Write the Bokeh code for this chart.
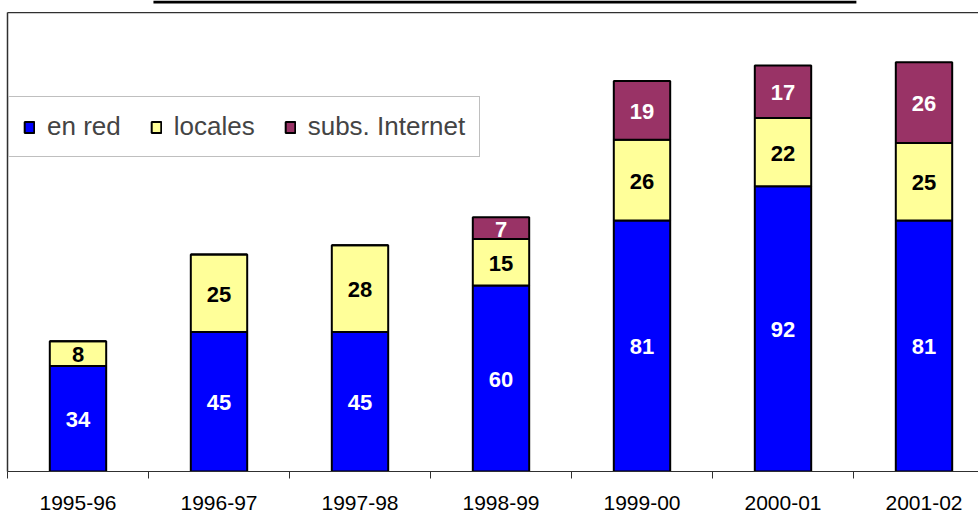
from bokeh.plotting import figure
from bokeh.models import (Range1d, FixedTicker, Legend, LegendItem, BoxAnnotation,
                          ColumnDataSource, LinearAxis)
from bokeh.layouts import column
from bokeh.embed import file_html
from bokeh.resources import INLINE
from bokeh.core.properties import value

# ---------------- data ----------------
periods = ["1995-96", "1996-97", "1997-98", "1998-99", "1999-00", "2000-01", "2001-02"]
en_red = [34, 45, 45, 60, 81, 92, 81]
locales = [8, 25, 28, 15, 26, 22, 25]
subs_internet = [0, 0, 0, 7, 19, 17, 26]
series_names = ["en red", "locales", "subs. Internet"]
series_keys = ["en_red", "locales", "subs_internet"]
series_colors = ["#0000FF", "#FFFF99", "#993366"]
label_colors = ["#FFFFFF", "#000000", "#FFFFFF"]

# ---------------- layout constants ----------------
W, H = 978, 516
TOP_STRIP = 12          # strip above the chart area holding the title rule
FRAME_LEFT = 7
AXIS_Y = 471            # page y of the category axis
PX_PER_UNIT = 3.1
PX_PER_CAT = 141.0
FONT = "Liberation Sans"
EDGE = "#303030"

x_pos = [i + 0.5 for i in range(len(periods))]
boundaries = [float(i) for i in range(len(periods) + 1)]

# ---------------- top strip: title rule ----------------
strip = figure(width=W, height=TOP_STRIP, output_backend="svg", toolbar_location=None,
               x_range=Range1d(0, W), y_range=Range1d(TOP_STRIP, 0),
               x_axis_location=None, y_axis_location=None,
               min_border_left=0, min_border_right=0, min_border_top=0, min_border_bottom=0)
strip.outline_line_color = None
strip.xgrid.visible = False
strip.ygrid.visible = False
strip.add_layout(BoxAnnotation(left=147, right=855, top=0, bottom=3,
                               fill_color="black", fill_alpha=1, line_alpha=0))

# ---------------- main chart ----------------
src = ColumnDataSource(dict(x=x_pos, en_red=en_red, locales=locales,
                            subs_internet=subs_internet))

main_h = H - TOP_STRIP
frame_h = AXIS_Y - TOP_STRIP
frame_w = W - FRAME_LEFT
p = figure(width=W, height=main_h, output_backend="svg", toolbar_location=None,
           x_range=Range1d(0, frame_w / PX_PER_CAT),
           y_range=Range1d(0, frame_h / PX_PER_UNIT),
           y_axis_location=None,
           min_border_left=FRAME_LEFT, min_border_right=0,
           min_border_top=0, min_border_bottom=main_h - frame_h)
p.outline_line_color = None
p.xgrid.visible = False
p.ygrid.visible = False
p.background_fill_color = "white"
p.border_fill_color = "white"

renderers = p.vbar_stack(series_keys, x="x", width=0.4, source=src,
                         color=series_colors, line_color="black", line_width=2)

# segment labels
cum = [0] * len(periods)
for key, vals, lc in zip(series_keys, [en_red, locales, subs_internet], label_colors):
    xs, ys, ts = [], [], []
    for i, v in enumerate(vals):
        if v > 0:
            xs.append(x_pos[i])
            ys.append(cum[i] + v / 2)
            ts.append(str(v))
        cum[i] += v
    p.text(x=xs, y=ys, text=ts, text_align="center", text_baseline="middle",
           text_color=lc, text_font=value(FONT), text_font_style="bold",
           text_font_size="22px", y_offset=1)

# x axis
ax = p.xaxis[0]
ax.ticker = FixedTicker(ticks=x_pos, minor_ticks=boundaries)
ax.major_label_overrides = {x: lab for x, lab in zip(x_pos, periods)}
ax.major_tick_out = 0
ax.major_tick_in = 0
ax.minor_tick_out = 7
ax.minor_tick_in = 0
ax.minor_tick_line_color = EDGE
ax.axis_line_color = EDGE
ax.axis_line_width = 1
ax.major_label_text_font = FONT
ax.major_label_text_font_size = "21px"
ax.major_label_text_color = "black"
ax.major_label_standoff = 17

# bare axes used as the chart-area border (top and left edges)
def bare_axis():
    return LinearAxis(ticker=FixedTicker(ticks=[]), major_tick_out=0, major_tick_in=0,
                      minor_tick_out=0, minor_tick_in=0, major_label_standoff=0,
                      major_label_text_font_size="0px", axis_line_color=EDGE,
                      axis_line_width=1.5)

p.add_layout(bare_axis(), "above")
p.add_layout(bare_axis(), "left")

# legend
legend = Legend(items=[LegendItem(label=n, renderers=[r]) for n, r in zip(series_names, renderers)],
                orientation="horizontal", location=(1, 314))
legend.label_text_font = FONT
legend.label_text_font_size = "26px"
legend.glyph_width = 12
legend.glyph_height = 14
legend.label_standoff = 12
legend.spacing = 29
legend.padding = 14
legend.margin = 0
legend.border_line_color = "#808080"
legend.border_line_width = 1
legend.background_fill_color = "white"
legend.background_fill_alpha = 1
p.add_layout(legend, "center")

layout = column(strip, p, spacing=0)
open("out.html", "w").write(file_html(layout, INLINE))
